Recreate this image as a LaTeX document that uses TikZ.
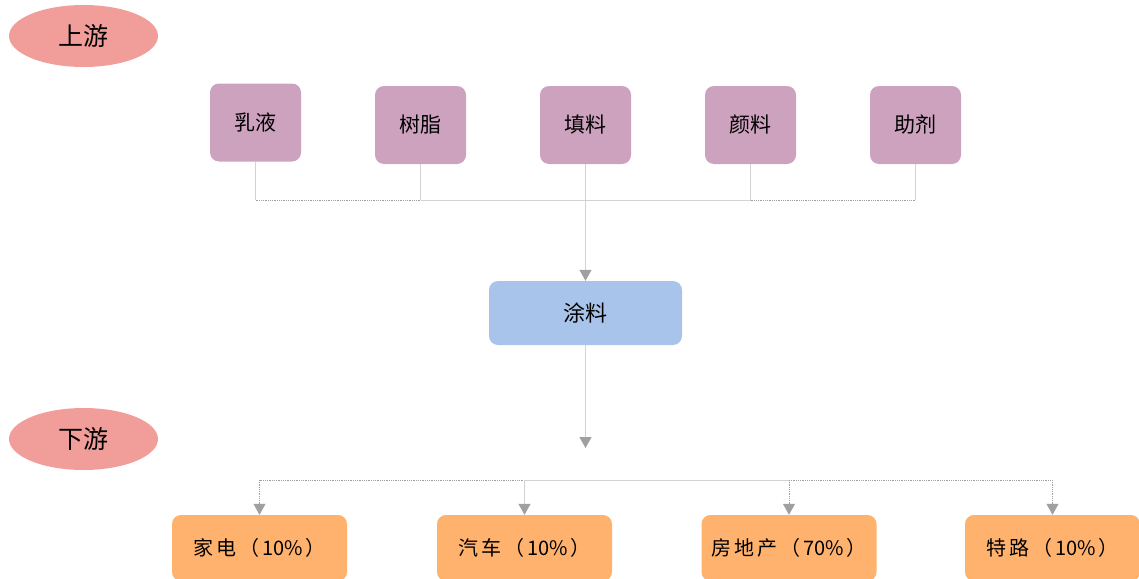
\documentclass[tikz,border=0pt]{standalone}
\usepackage{fontspec}
\newfontfamily\cjk{Noto Sans CJK SC}
\usetikzlibrary{shapes.geometric,arrows.meta}
\definecolor{ellc}{HTML}{F19E9A}
\definecolor{topc}{HTML}{CDA2BF}
\definecolor{midc}{HTML}{A9C4EB}
\definecolor{botc}{HTML}{FFB26E}
\definecolor{linec}{HTML}{D2D2D2}
\definecolor{arrc}{HTML}{A0A0A0}
\tikzset{
  lbl/.style={ellipse,fill=ellc,minimum width=149pt,minimum height=62pt,inner sep=0pt,font=\cjk\fontsize{25pt}{25pt}\selectfont},
  topbox/.style={rectangle,rounded corners=9pt,fill=topc,minimum width=91pt,minimum height=78pt,inner sep=0pt,font=\cjk\fontsize{21pt}{21pt}\selectfont},
  midbox/.style={rectangle,rounded corners=9pt,fill=midc,minimum width=193pt,minimum height=64pt,inner sep=0pt,font=\cjk\fontsize{22pt}{22pt}\selectfont},
  botbox/.style={rectangle,rounded corners=9pt,fill=botc,minimum width=175pt,minimum height=66pt,inner sep=0pt,font=\cjk\fontsize{20pt}{20pt}\selectfont},
  conn/.style={draw=linec,line width=1.2pt},
  dotconn/.style={draw=arrc,line width=0.8pt,densely dotted},
  arr/.style={-{Triangle[length=11pt,width=12pt,color=arrc]}},
}
\newcommand{\gp}{\hspace{3pt}}
\begin{document}
\begin{tikzpicture}[x=1pt,y=-1pt]
\useasboundingbox (0,0) rectangle (1139,578);
\node[lbl] (up) at (83.5,36) {上游};
\node[lbl] (down) at (83.5,439) {下游};
\node[topbox] (a) at (255.5,122.5) {乳液};
\node[topbox] (b) at (420.5,125) {树脂};
\node[topbox] (c) at (585.5,125) {填料};
\node[topbox] (d) at (750.5,125) {颜料};
\node[topbox] (e) at (915.5,125) {助剂};
\node[midbox] (m) at (585.5,313) {涂料};
\node[botbox] (p) at (259.5,548) {家\gp 电\gp （\gp 10\%\gp ）};
\node[botbox] (q) at (524.5,548) {汽\gp 车\gp （\gp 10\%\gp ）};
\node[botbox] (r) at (789,548) {房\gp 地\gp 产\gp （\gp 70\%\gp ）};
\node[botbox] (s) at (1052.5,548) {特\gp 路\gp （\gp 10\%\gp ）};
\coordinate (ja) at (a.south |- 0,200);
\coordinate (jb) at (b.south |- 0,200);
\coordinate (jc) at (c.south |- 0,200);
\coordinate (jd) at (d.south |- 0,200);
\coordinate (je) at (e.south |- 0,200);
\coordinate (mt) at (585.5,268);
\coordinate (mb) at (585.5,437);
\coordinate (jp) at (p.north |- 0,480);
\coordinate (jq) at (q.north |- 0,480);
\coordinate (jr) at (r.north |- 0,480);
\coordinate (js) at (s.north |- 0,480);
\draw[conn] (a.south) -- (ja);
\draw[conn] (b.south) -- (jb);
\draw[conn] (c.south) -- (jc);
\draw[conn] (d.south) -- (jd);
\draw[conn] (e.south) -- (je);
\draw[dotconn] (ja) -- (jb);
\draw[conn,line width=0.9pt] (jb) -- (jd);
\draw[dotconn] (jd) -- (je);
\draw[conn] (c.south) -- (mt);
\draw[conn,arr] (mt) -- (m.north);
\draw[conn] (m.south) -- (mb);
\draw[conn,arr] (mb) -- ++(0,11);
\draw[dotconn] (jp) -- (jq);
\draw[conn,line width=0.9pt] (jq) -- (jr);
\draw[dotconn] (jr) -- (js);
\draw[conn,line width=1pt] (jq) -- ++(0,24);
\draw[dotconn,arr] (jp) -- (p.north);
\draw[conn,arr] (jq) -- (q.north);
\draw[dotconn,arr] (jr) -- (r.north);
\draw[dotconn,arr] (js) -- (s.north);
\end{tikzpicture}
\end{document}
